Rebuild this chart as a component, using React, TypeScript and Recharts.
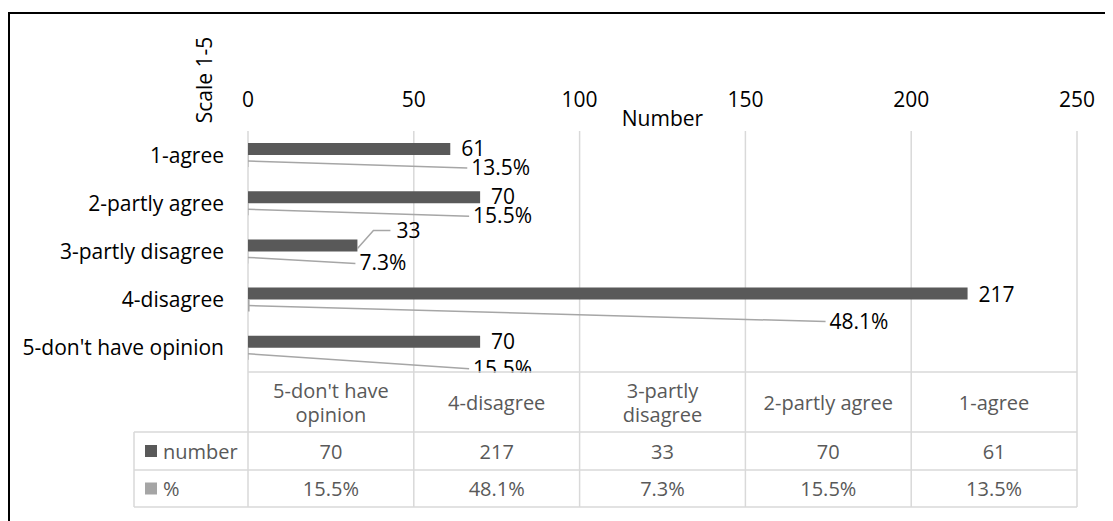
import React from 'react';
import { BarChart, Bar, XAxis, YAxis, CartesianGrid, LabelList } from 'recharts';

// Survey answers on a 1-5 scale
const categories = ['1-agree', '2-partly agree', '3-partly disagree', '4-disagree', "5-don't have opinion"];
const counts = [61, 70, 33, 217, 70];
const shares = [0.135, 0.155, 0.073, 0.481, 0.155];
const axisTicks = [0, 50, 100, 150, 200, 250];
// Column headings of the data table (reverse order, wrapped as shown)
const tableHeadings = [["5-don't have", 'opinion'], ['4-disagree'], ['3-partly', 'disagree'], ['2-partly agree'], ['1-agree']];
const tableOrder = [4, 3, 2, 1, 0];

// Label nudges in pixels: [dx, dy]
const countLabelNudge = [[0, -1], [0, -1], [28, -15], [0, 0], [0, -1]];
const shareLabelNudge = [[21, 6], [-7, 6], [2, 5], [-138, 15], [-7, 14]];

const data = categories.map((c, i) => ({ name: c, number: counts[i], pct: shares[i] }));

const FONT = '"Open Sans", sans-serif';
const FS = 21;
const TABLE_FS = 20;
const W = 1105;
const H = 513;
const MARGIN = { top: 83, right: 36, bottom: 149, left: 10 };
const Y_AXIS_W = 230;
const X_AXIS_H = 40;
const X_MAX = 250;
const PLOT_L = MARGIN.left + Y_AXIS_W;
const PLOT_R = W - MARGIN.right;
const PLOT_B = H - MARGIN.bottom;
const PLOT_W = PLOT_R - PLOT_L;

const ROW_HEAD_B = PLOT_B + 60;
const ROW_NUM_B = ROW_HEAD_B + 38;
const ROW_PCT_B = ROW_NUM_B + 37;
const TABLE_L = 126;

const GRID = '#d9d9d9';
const DARK = '#595959';
const LIGHT = '#a5a5a5';
const LEADER = '#a6a6a6';

const fmtPct = (v: number) => `${(v * 100).toFixed(1)}%`;

const geom = (props: any) => {
  const vb = props.viewBox || {};
  return {
    x: Number(props.x ?? vb.x),
    y: Number(props.y ?? vb.y),
    width: Number(props.width ?? vb.width),
    height: Number(props.height ?? vb.height),
  };
};

const CountLabel = (props: any) => {
  const { x, y, width, height } = geom(props);
  const i = props.index as number;
  const [dx, dy] = countLabelNudge[i] || [0, 0];
  const endX = x + width;
  const cy = y + height / 2;
  const lx = endX + 11 + dx;
  const ly = cy + dy;
  const withLeader = dx !== 0;
  return (
    <g>
      {withLeader && (
        <polyline
          points={`${endX},${cy + 3} ${endX + 16},${ly} ${lx - 6},${ly}`}
          fill="none"
          stroke={LEADER}
          strokeWidth={1.5}
        />
      )}
      <text x={lx} y={ly} dominantBaseline="central" fontFamily={FONT} fontSize={FS} fill="#000">
        {counts[i]}
      </text>
    </g>
  );
};

const ShareLabel = (props: any) => {
  const { x, y, height } = geom(props);
  const i = props.index as number;
  const [dx, dy] = shareLabelNudge[i] || [0, 0];
  const countEnd = PLOT_L + (counts[i] / X_MAX) * PLOT_W;
  const cy = y + height / 2;
  const lx = countEnd + dx;
  const ly = cy + dy;
  return (
    <g>
      <line x1={x} y1={cy} x2={lx - 4} y2={ly + 1} stroke={LEADER} strokeWidth={1.5} />
      <text x={lx} y={ly} dominantBaseline="central" fontFamily={FONT} fontSize={FS} fill="#000">
        {fmtPct(shares[i])}
      </text>
    </g>
  );
};

const DataTable = () => {
  const colW = PLOT_W / 5;
  const cols = [0, 1, 2, 3, 4, 5].map((k) => PLOT_L + k * colW);
  const textProps = { fontFamily: FONT, fontSize: TABLE_FS, fill: DARK, textAnchor: 'middle' as const, dominantBaseline: 'central' as const };
  return (
    <svg width={W} height={H} style={{ position: 'absolute', left: 0, top: 0, pointerEvents: 'none' }}>
      <rect x={PLOT_L} y={PLOT_B + 1} width={PLOT_W} height={ROW_HEAD_B - PLOT_B - 1} fill="#fff" />
      {/* axis titles */}
      <text
        x={0}
        y={0}
        transform={`translate(196,72) rotate(-90)`}
        textAnchor="middle"
        dominantBaseline="central"
        fontFamily={FONT}
        fontSize={FS}
        fill="#000"
      >
        Scale 1-5
      </text>
      <text x={(PLOT_L + PLOT_R) / 2} y={110} textAnchor="middle" dominantBaseline="central" fontFamily={FONT} fontSize={FS} fill="#000">
        Number
      </text>
      {/* table rules */}
      <line x1={PLOT_L} x2={PLOT_R} y1={PLOT_B} y2={PLOT_B} stroke={GRID} strokeWidth={1.5} />
      {[ROW_HEAD_B, ROW_NUM_B, ROW_PCT_B].map((yy) => (
        <line key={yy} x1={TABLE_L} x2={PLOT_R} y1={yy} y2={yy} stroke={GRID} strokeWidth={1.5} />
      ))}
      {cols.map((cx) => (
        <line key={cx} x1={cx} x2={cx} y1={PLOT_B} y2={ROW_PCT_B} stroke={GRID} strokeWidth={1.5} />
      ))}
      <line x1={TABLE_L} x2={TABLE_L} y1={ROW_HEAD_B} y2={ROW_PCT_B} stroke={GRID} strokeWidth={1.5} />
      {/* headings */}
      {tableOrder.map((ci, k) => {
        const lines = tableHeadings[k];
        const mid = (PLOT_B + ROW_HEAD_B) / 2;
        const cx = cols[k] + colW / 2;
        return lines.map((ln, j) => (
          <text key={`${ci}-${j}`} x={cx} y={mid + (j - (lines.length - 1) / 2) * 24} {...textProps}>
            {ln}
          </text>
        ));
      })}
      {/* legend keys */}
      <rect x={137} y={(ROW_HEAD_B + ROW_NUM_B) / 2 - 6} width={12} height={12} fill={DARK} />
      <text x={155} y={(ROW_HEAD_B + ROW_NUM_B) / 2} {...textProps} textAnchor="start">number</text>
      <rect x={137} y={(ROW_NUM_B + ROW_PCT_B) / 2 - 6} width={12} height={12} fill={LIGHT} />
      <text x={155} y={(ROW_NUM_B + ROW_PCT_B) / 2} {...textProps} textAnchor="start">%</text>
      {/* values */}
      {tableOrder.map((ci, k) => (
        <g key={ci}>
          <text x={cols[k] + colW / 2} y={(ROW_HEAD_B + ROW_NUM_B) / 2} {...textProps}>{counts[ci]}</text>
          <text x={cols[k] + colW / 2} y={(ROW_NUM_B + ROW_PCT_B) / 2} {...textProps}>{fmtPct(shares[ci])}</text>
        </g>
      ))}
    </svg>
  );
};

export default function App() {
  return (
    <div style={{ position: 'relative', width: W, height: H, overflow: 'hidden', background: '#fff' }}>
      <div
        style={{
          position: 'absolute',
          left: 0,
          top: 4,
          width: W + 50,
          height: H + 50,
          borderTop: '2px solid #000',
          borderLeft: '2px solid #000',
        }}
      />
      <BarChart
        width={W}
        height={H}
        data={data}
        layout="vertical"
        margin={MARGIN}
        barGap={0}
        style={{ position: 'absolute', left: 0, top: 0 }}
      >
        <CartesianGrid horizontal={false} vertical stroke={GRID} strokeWidth={1.5} />
        <XAxis
          type="number"
          orientation="top"
          domain={[0, X_MAX]}
          ticks={axisTicks}
          height={X_AXIS_H}
          axisLine={false}
          tickLine={false}
          tickSize={0}
          tickMargin={24}
          tick={{ fontFamily: FONT, fontSize: FS, fill: '#000' }}
        />
        <YAxis
          type="category"
          dataKey="name"
          width={Y_AXIS_W}
          axisLine={false}
          tickLine={false}
          tickSize={0}
          tickMargin={24}
          tick={{ fontFamily: FONT, fontSize: FS, fill: '#000' }}
        />
        <Bar dataKey="number" fill={DARK} barSize={12} isAnimationActive={false}>
          <LabelList dataKey="number" content={(p: any) => <CountLabel {...p} />} />
        </Bar>
        <Bar dataKey="pct" fill={LIGHT} barSize={12} isAnimationActive={false}>
          <LabelList dataKey="pct" content={(p: any) => <ShareLabel {...p} />} />
        </Bar>
      </BarChart>
      <DataTable />
    </div>
  );
}
